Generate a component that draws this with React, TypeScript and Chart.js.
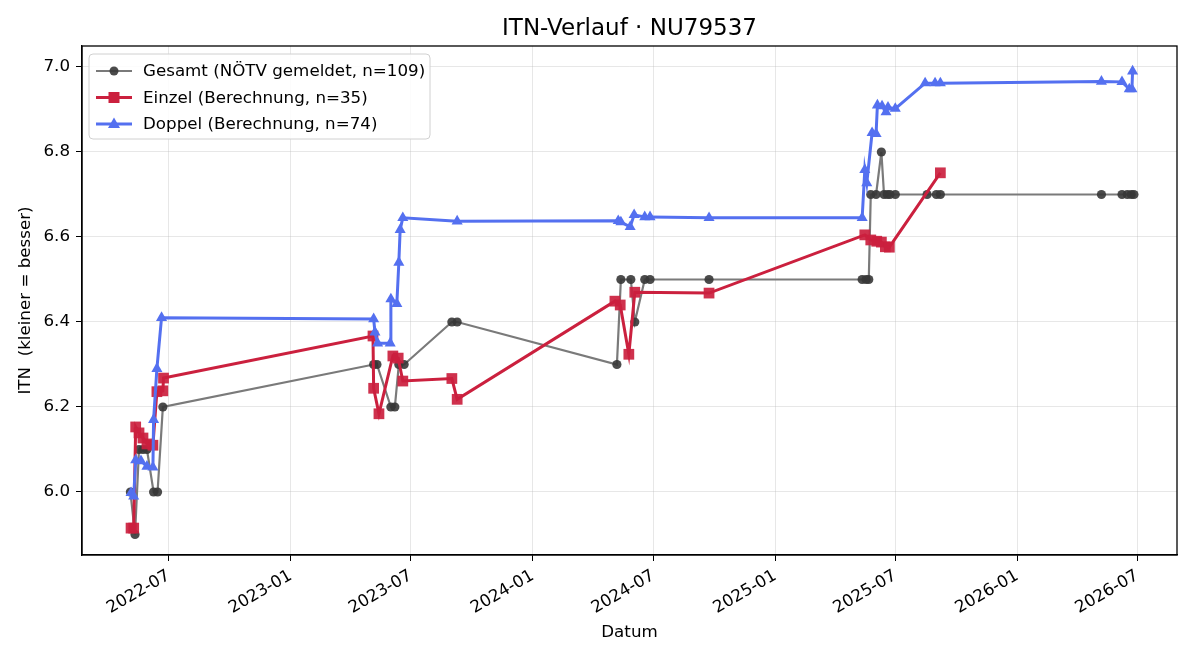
import React, { useEffect, useRef } from "react";
import { Chart, registerables } from "chart.js";

Chart.register(...registerables);

const FONT = '"DejaVu Sans", "Liberation Sans", sans-serif';

// Gesamt (gemeldete ITN)
const gesamtDates = [
  "2022-05-04", "2022-05-11", "2022-05-17", "2022-05-23", "2022-05-29", "2022-06-08", "2022-06-14", "2022-06-22",
  "2023-05-06", "2023-05-11", "2023-06-01", "2023-06-07", "2023-06-13", "2023-06-21", "2023-09-01", "2023-09-09",
  "2024-05-07", "2024-05-13", "2024-05-28", "2024-06-03", "2024-06-18", "2024-06-26", "2024-09-23",
  "2025-05-12", "2025-05-18", "2025-05-22", "2025-05-25", "2025-06-02", "2025-06-10", "2025-06-14", "2025-06-19",
  "2025-06-23", "2025-07-01", "2025-08-18", "2025-09-01", "2025-09-07",
  "2026-05-08", "2026-06-08", "2026-06-16", "2026-06-22", "2026-06-26",
];
const gesamtValues = [
  6.0, 5.9, 6.1, 6.1, 6.1, 6.0, 6.0, 6.2,
  6.3, 6.3, 6.2, 6.2, 6.3, 6.3, 6.4, 6.4,
  6.3, 6.5, 6.5, 6.4, 6.5, 6.5, 6.5,
  6.5, 6.5, 6.5, 6.7, 6.7, 6.8, 6.7, 6.7,
  6.7, 6.7, 6.7, 6.7, 6.7,
  6.7, 6.7, 6.7, 6.7, 6.7,
];

// Einzel (berechnet)
const einzelDates = [
  "2022-05-05", "2022-05-09", "2022-05-12", "2022-05-17", "2022-05-23", "2022-05-29", "2022-06-07", "2022-06-13",
  "2022-06-22", "2022-06-23",
  "2023-05-05", "2023-05-06", "2023-05-14", "2023-06-04", "2023-06-12", "2023-06-19", "2023-09-01", "2023-09-09",
  "2024-05-04", "2024-05-12", "2024-05-25", "2024-06-03", "2024-09-23",
  "2025-05-16", "2025-05-25", "2025-06-03", "2025-06-10", "2025-06-16", "2025-06-22", "2025-09-07",
];
const einzelValues = [
  5.915, 5.915, 6.153, 6.139, 6.127, 6.113, 6.11, 6.236,
  6.238, 6.268,
  6.367, 6.244, 6.184, 6.32, 6.315, 6.261, 6.267, 6.218,
  6.449, 6.44, 6.324, 6.47, 6.468,
  6.605, 6.593, 6.59, 6.588, 6.577, 6.576, 6.751,
];

// Doppel (berechnet)
const doppelDates = [
  "2022-05-05", "2022-05-09", "2022-05-12", "2022-05-20", "2022-05-29", "2022-06-07", "2022-06-08", "2022-06-13",
  "2022-06-20",
  "2023-05-06", "2023-05-08", "2023-05-12", "2023-05-31", "2023-06-01", "2023-06-10", "2023-06-13", "2023-06-15",
  "2023-06-19", "2023-09-09",
  "2024-05-09", "2024-05-13", "2024-05-27", "2024-06-02", "2024-06-18", "2024-06-26", "2024-09-23",
  "2025-05-12", "2025-05-16", "2025-05-19", "2025-05-27", "2025-06-02", "2025-06-04", "2025-06-11", "2025-06-17",
  "2025-06-20", "2025-07-01", "2025-08-15", "2025-08-30", "2025-09-07",
  "2026-05-08", "2026-06-08", "2026-06-19", "2026-06-23", "2026-06-24",
];
const doppelValues = [
  5.998, 5.99, 6.075, 6.073, 6.06, 6.058, 6.17, 6.29,
  6.41,
  6.407, 6.376, 6.35, 6.35, 6.454, 6.443, 6.54, 6.617,
  6.645, 6.637,
  6.638, 6.635, 6.624, 6.652, 6.647, 6.647, 6.645,
  6.645, 6.758, 6.727, 6.845, 6.843, 6.91, 6.908, 6.894,
  6.905, 6.902, 6.962, 6.962, 6.962,
  6.966, 6.965, 6.948, 6.948, 6.99,
];

const xTickMonths = ["2022-07", "2023-01", "2023-07", "2024-01", "2024-07", "2025-01", "2025-07", "2026-01", "2026-07"];
const yTickValues = [6.0, 6.2, 6.4, 6.6, 6.8, 7.0];
const xRange = ["2022-02-20", "2026-08-30"];
const yRange = [5.8517, 7.0494];

const titleText = "ITN-Verlauf · NU79537";
const xLabel = "Datum";
const yLabel = "ITN  (kleiner = besser)";

const legendLabels = [
  "Gesamt (NÖTV gemeldet, n=109)",
  "Einzel (Berechnung, n=35)",
  "Doppel (Berechnung, n=74)",
];

const GRAY_LINE = "rgb(122,122,122)";
const GRAY_POINT = "rgba(55,55,55,0.9)";
const RED = "rgb(203,32,62)";
const BLUE = "rgb(84,112,240)";

const toMs = (s: string) => {
  const [y, m, d] = s.split("-").map(Number);
  return Date.UTC(y, m - 1, d || 1);
};

const series = (dates: string[], values: number[]) =>
  dates.map((d, i) => ({ x: toMs(d), y: values[i] }));

const decorPlugin = {
  id: "decor",
  afterDraw(chart: any) {
    const { ctx, chartArea: a } = chart;
    ctx.save();

    // frame
    ctx.strokeStyle = "#000";
    ctx.lineWidth = 1.3;
    ctx.strokeRect(a.left, a.top, a.right - a.left, a.bottom - a.top);

    // title and axis labels
    ctx.fillStyle = "#000";
    ctx.textAlign = "center";
    ctx.textBaseline = "middle";
    ctx.font = `23px ${FONT}`;
    ctx.fillText(titleText, (a.left + a.right) / 2, 29);
    ctx.font = `16.7px ${FONT}`;
    ctx.fillText(xLabel, (a.left + a.right) / 2, 633);
    ctx.save();
    ctx.translate(26, (a.top + a.bottom) / 2);
    ctx.rotate(-Math.PI / 2);
    ctx.fillText(yLabel, 0, 0);
    ctx.restore();

    // legend
    const bx = 89, by = 54, bw = 341, bh = 85, r = 4;
    ctx.beginPath();
    ctx.moveTo(bx + r, by);
    ctx.arcTo(bx + bw, by, bx + bw, by + bh, r);
    ctx.arcTo(bx + bw, by + bh, bx, by + bh, r);
    ctx.arcTo(bx, by + bh, bx, by, r);
    ctx.arcTo(bx, by, bx + bw, by, r);
    ctx.closePath();
    ctx.fillStyle = "rgba(255,255,255,0.85)";
    ctx.fill();
    ctx.strokeStyle = "rgb(208,208,208)";
    ctx.lineWidth = 1;
    ctx.stroke();

    const styles = [
      { line: GRAY_LINE, point: GRAY_POINT, width: 2.2, shape: "circle" },
      { line: RED, point: RED, width: 3, shape: "rect" },
      { line: BLUE, point: BLUE, width: 3, shape: "triangle" },
    ];
    styles.forEach((s, i) => {
      const cy = 71 + i * 26.5;
      ctx.strokeStyle = s.line;
      ctx.lineWidth = s.width;
      ctx.beginPath();
      ctx.moveTo(96, cy);
      ctx.lineTo(132, cy);
      ctx.stroke();
      ctx.fillStyle = s.point;
      ctx.beginPath();
      if (s.shape === "circle") {
        ctx.arc(114, cy, 4.5, 0, Math.PI * 2);
      } else if (s.shape === "rect") {
        ctx.rect(108.5, cy - 5.5, 11, 11);
      } else {
        ctx.moveTo(114, cy - 6.5);
        ctx.lineTo(120, cy + 4);
        ctx.lineTo(108, cy + 4);
        ctx.closePath();
      }
      ctx.fill();
      ctx.fillStyle = "#000";
      ctx.textAlign = "left";
      ctx.textBaseline = "middle";
      ctx.font = `16.7px ${FONT}`;
      ctx.fillText(legendLabels[i], 143, cy + 1);
    });

    ctx.restore();
  },
};

export default function App() {
  const canvasRef = useRef<HTMLCanvasElement | null>(null);

  useEffect(() => {
    document.body.style.margin = "0";
    const canvas = canvasRef.current;
    if (!canvas) return;

    const chart = new Chart(canvas, {
      type: "line",
      data: {
        datasets: [
          {
            label: legendLabels[0],
            data: series(gesamtDates, gesamtValues),
            borderColor: GRAY_LINE,
            borderWidth: 2.2,
            pointStyle: "circle",
            pointRadius: 4.6,
            pointBorderWidth: 0,
            pointBackgroundColor: GRAY_POINT,
            pointBorderColor: GRAY_POINT,
            tension: 0,
            order: 3,
          },
          {
            label: legendLabels[1],
            data: series(einzelDates, einzelValues),
            borderColor: RED,
            borderWidth: 3,
            pointStyle: "rect",
            pointRadius: 7.6,
            pointBorderWidth: 0,
            pointBackgroundColor: "rgba(203,32,62,0.92)",
            pointBorderColor: RED,
            tension: 0,
            order: 2,
          },
          {
            label: legendLabels[2],
            data: series(doppelDates, doppelValues),
            borderColor: BLUE,
            borderWidth: 3,
            pointStyle: "triangle",
            pointRadius: 6.4,
            pointBorderWidth: 0,
            pointBackgroundColor: BLUE,
            pointBorderColor: BLUE,
            tension: 0,
            order: 1,
          },
        ],
      },
      options: {
        animation: false,
        responsive: false,
        maintainAspectRatio: false,
        devicePixelRatio: 1,
        layout: { padding: { top: 46, right: 23, left: 0, bottom: 0 } },
        plugins: {
          legend: { display: false },
          title: { display: false },
          tooltip: { enabled: false },
        },
        scales: {
          x: {
            type: "linear",
            min: toMs(xRange[0]),
            max: toMs(xRange[1]),
            afterBuildTicks: (scale: any) => {
              scale.ticks = xTickMonths.map((m) => ({ value: toMs(m + "-01") }));
            },
            afterFit: (scale: any) => {
              scale.height = 105;
            },
            ticks: {
              autoSkip: false,
              minRotation: 30,
              maxRotation: 30,
              padding: 5,
              color: "#000",
              font: { family: FONT, size: 16.7 },
              callback: (v: any) => {
                const d = new Date(Number(v));
                return `${d.getUTCFullYear()}-${String(d.getUTCMonth() + 1).padStart(2, "0")}`;
              },
            },
            grid: {
              color: "rgba(176,176,176,0.3)",
              lineWidth: 1,
              tickColor: "#000",
              tickLength: 6,
              drawTicks: true,
            },
            border: { display: true, color: "#000", width: 1.3 },
          },
          y: {
            type: "linear",
            min: yRange[0],
            max: yRange[1],
            afterBuildTicks: (scale: any) => {
              scale.ticks = yTickValues.map((v) => ({ value: v }));
            },
            afterFit: (scale: any) => {
              scale.width = 82;
            },
            ticks: {
              padding: 6,
              color: "#000",
              font: { family: FONT, size: 16.7 },
              callback: (v: any) => Number(v).toFixed(1),
            },
            grid: {
              color: "rgba(176,176,176,0.3)",
              lineWidth: 1,
              tickColor: "#000",
              tickLength: 6,
              drawTicks: true,
            },
            border: { display: true, color: "#000", width: 1.3 },
          },
        },
      },
      plugins: [decorPlugin],
    });

    return () => chart.destroy();
  }, []);

  return (
    <div style={{ position: "absolute", left: 0, top: 0, width: 1200, height: 660, background: "#fff" }}>
      <canvas ref={canvasRef} width={1200} height={660} style={{ width: 1200, height: 660, display: "block" }} />
    </div>
  );
}
